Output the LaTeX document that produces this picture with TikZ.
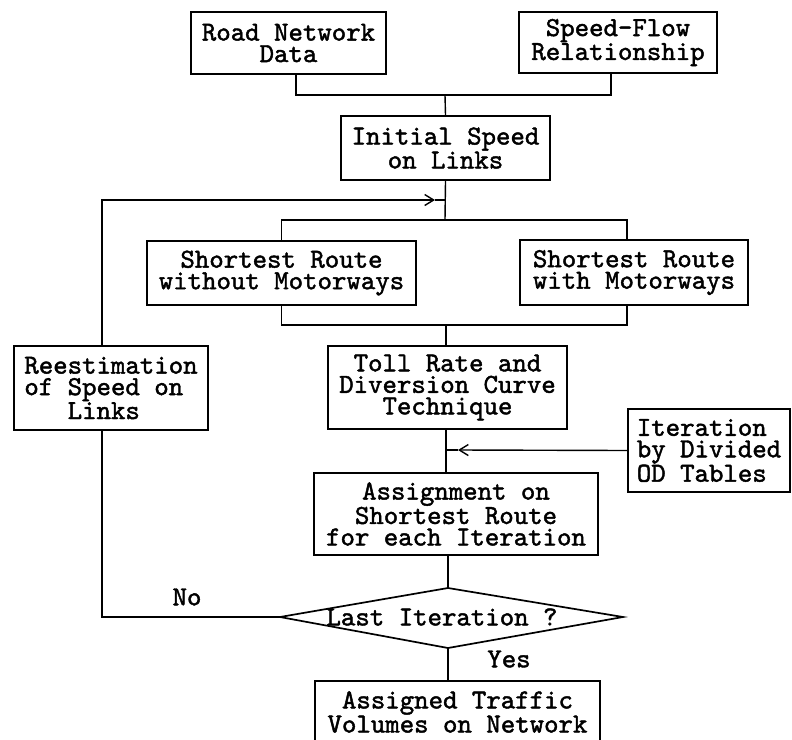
\documentclass[tikz,border=0pt]{standalone}
\usepackage{fontspec}
\setmonofont{lmmono10-regular.otf}[FakeBold=1.6]
\usetikzlibrary{arrows.meta}
\tikzset{
  box/.style={draw, line width=1.7pt, rectangle, inner sep=0pt, align=center,
    font={\ttfamily\fontsize{27.5}{21.5}\selectfont}},
  lbl/.style={inner sep=0pt, font={\ttfamily\fontsize{27.5}{21.5}\selectfont}},
  conn/.style={line width=1.4pt},
  chev/.style={line width=1.4pt, -{Straight Barb[length=9pt,width=11pt,line width=1.4pt]}},
}
\begin{document}
\begin{tikzpicture}[x=1pt, y=-1pt]
\useasboundingbox (0,0) rectangle (792,739);
% boxes
\node[box, minimum width=195pt, minimum height=62pt] (road) at (288.5,43) {Road Network\\Data};
\node[box, minimum width=198pt, minimum height=61pt] (speed) at (618,42.5) {Speed-Flow\\Relationship};
\node[box, minimum width=209pt, minimum height=64pt] (init) at (445.5,148) {Initial Speed\\on Links};
\node[box, minimum width=269pt, minimum height=64pt] (wo) at (281.5,273) {Shortest Route\\without Motorways};
\node[box, minimum width=228pt, minimum height=65pt] (with) at (634,272.5) {Shortest Route\\with Motorways};
\node[box, minimum width=194pt, minimum height=84pt, align=left] (reest) at (111,388) {Reestimation\\of Speed on\\\phantom{xxx}Links};
\node[box, minimum width=239pt, minimum height=83pt] (toll) at (447.5,387.5) {Toll Rate and\\Diversion Curve\\Technique};
\node[box, minimum width=162pt, minimum height=83pt, align=left] (iter) at (709,450.5) {Iteration\\by Divided\\OD Tables};
\node[box, minimum width=284pt, minimum height=82pt] (assign) at (456,514) {Assignment on\\Shortest Route\\for each Iteration};
\node[box, minimum width=285pt, minimum height=62pt] (final) at (457.5,712) {Assigned Traffic\\Volumes on Network};
% diamond
\coordinate (dT) at (448,588);
\coordinate (dB) at (448,648);
\coordinate (dL) at (280,617);
\coordinate (dR) at (623,617);
\draw[line width=1.7pt] (dT) -- (dR) -- (dB) -- (dL) -- cycle;
\node[lbl] (last) at (442,617) {Last Iteration ?};
\node[lbl] (no) at (187,597) {No};
\node[lbl] (yes) at (509,659) {Yes};
% junction coordinates
\coordinate (j1) at (445,95);
\coordinate (j2) at (445,220);
\coordinate (j3) at (446,325);
\coordinate (fb) at (102,200);
\coordinate (ch1) at (435,200);
\coordinate (nc) at (102,617);
\coordinate (ch2) at (458,450);
% connectors
\draw[conn] ([xshift=7.5pt]road.south) |- (j1) -| ([xshift=-7pt]speed.south);
\draw[conn] (j1) -- (init.north);
\draw[conn] (init.south) -- (j2);
\draw[conn] (wo.north) |- (j2) -| ([xshift=-7pt]with.north);
\draw[conn] (wo.south) |- (j3) -| ([xshift=-7pt]with.south);
\draw[conn] (j3) -- (j3 |- toll.north);
\draw[conn] (j3 |- toll.south) -- (j3 |- assign.north);
\draw[chev] (iter.west) -- (ch2);
\draw[conn] (ch2) -- (j3 |- ch2);
\draw[conn] (dT |- assign.south) -- (dT);
\draw[conn] (dB) -- (dB |- final.north);
\draw[conn] (dL) -- (nc) -- (nc |- reest.south);
\draw[chev] (fb |- reest.north) -- (fb) -- (ch1);
\draw[conn] (ch1) -- (j2 |- ch1);
\end{tikzpicture}
\end{document}
